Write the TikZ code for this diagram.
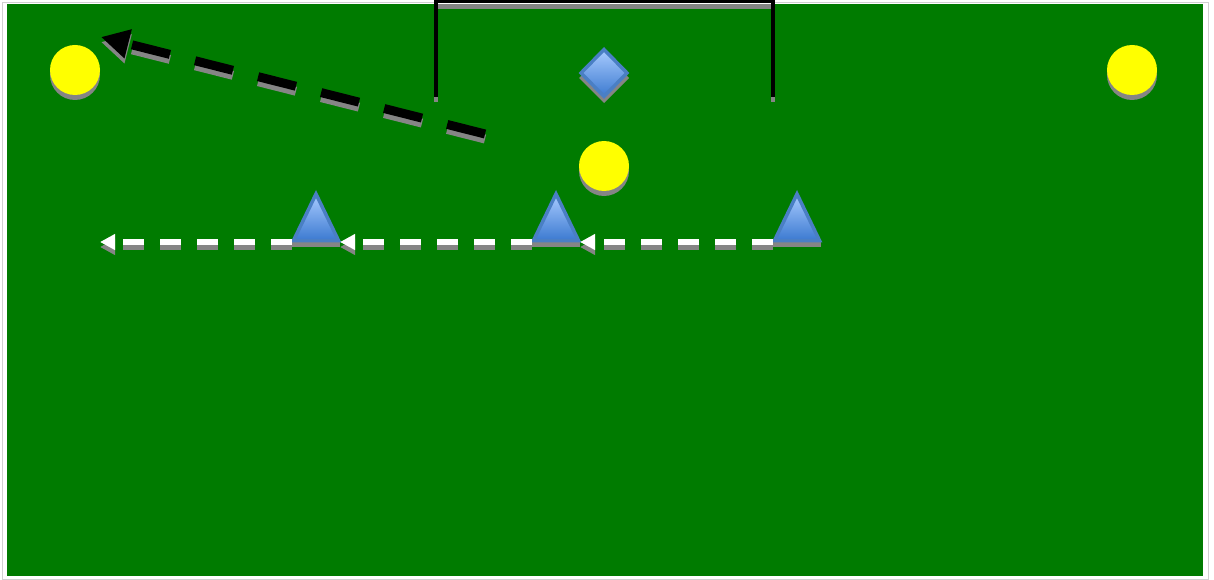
\documentclass[tikz,border=0pt]{standalone}
\usetikzlibrary{arrows.meta,shapes.geometric}
\definecolor{pitch}{HTML}{007B00}
\definecolor{ball}{HTML}{FFFF00}
\definecolor{shadowgray}{HTML}{858585}
\definecolor{conetop}{HTML}{A8CBFF}
\definecolor{conebot}{HTML}{3C7AD0}
\definecolor{coneedge}{HTML}{4A7FC4}
\definecolor{frame}{HTML}{D0D0D0}
\tikzset{
  player/.style={circle,fill=ball,minimum size=50pt,inner sep=0pt},
  playershadow/.style={circle,fill=shadowgray,minimum size=50pt,inner sep=0pt},
  cone/.style={draw=coneedge,line width=3.5pt,line join=miter,top color=conetop,bottom color=conebot},
  runline/.style={white,line width=6.5pt,dash pattern=on 21pt off 16pt,-{Triangle[length=15pt,width=15pt]}},
  runshadow/.style={shadowgray,line width=6.5pt,dash pattern=on 21pt off 16pt,-{Triangle[length=15pt,width=15pt]}},
  passline/.style={black,line width=9pt,dash pattern=on 39pt off 26pt,-{Triangle[length=28pt,width=28pt]}},
  passshadow/.style={shadowgray,line width=9pt,dash pattern=on 39pt off 26pt,-{Triangle[length=28pt,width=28pt]}},
}
\begin{document}
\begin{tikzpicture}[x=1pt,y=-1pt]
\useasboundingbox (0,0) rectangle (1214,580);
% frame and pitch
\draw[frame,line width=1pt] (2,3) rectangle (1208,579);
\fill[pitch] (7,4) rectangle (1203,576);
% goal
\coordinate (gl) at (436,1);
\coordinate (gr) at (773,1);
\draw[shadowgray,line width=5pt] (438,6.5) -- (771,6.5);
\draw[black,line width=3pt] (434,2) -- (775,2);
\draw[shadowgray,line width=4.5pt] (436,96) -- (436,102);
\draw[shadowgray,line width=4.5pt] (773,96) -- (773,102);
\draw[black,line width=4.5pt] (gl) -- (436,97);
\draw[black,line width=4.5pt] (gr) -- (773,97);
% players
\node[playershadow] at (75,75) {};
\node[player] (p1) at (75,70) {};
\node[playershadow] at (1132,75) {};
\node[player] (p2) at (1132,70) {};
\node[playershadow] at (604,171) {};
\node[player] (p3) at (604,166) {};
% diamond cone
\fill[shadowgray] (604,53) -- (629,78) -- (604,103) -- (579,78) -- cycle;
\filldraw[cone] (604,49.5) -- (627,73) -- (604,96.5) -- (581,73) -- cycle;
\coordinate (dia) at (604,73);
% triangle cones
\foreach \cx/\nm in {316/t1,556/t2,797/t3}{
  \fill[shadowgray] (\cx-24,242) rectangle (\cx+24,247);
  \filldraw[cone] (\cx,194) -- (\cx+22.5,240.5) -- (\cx-22.5,240.5) -- cycle;
  \coordinate (\nm L) at (\cx-24,242);
  \coordinate (\nm R) at (\cx+24,242);
}
\coordinate (endrun) at (100,242);
% run shadows
\draw[runshadow] ([shift={(0,5)}]t3L) -- ([shift={(0,5)}]t2R);
\draw[runshadow] ([shift={(0,5)}]t2L) -- ([shift={(0,5)}]t1R);
\draw[runshadow] ([shift={(0,5)}]t1L) -- ([shift={(0,5)}]endrun);
% runs
\draw[runline] (t3L) -- (t2R);
\draw[runline] (t2L) -- (t1R);
\draw[runline] (t1L) -- (endrun);
% pass
\coordinate (ps) at (485,134);
\coordinate (pe) at (101,37);
\draw[passshadow] ([shift={(0,5)}]ps) -- ([shift={(0,5)}]pe);
\draw[passline] (ps) -- (pe);
\end{tikzpicture}
\end{document}
